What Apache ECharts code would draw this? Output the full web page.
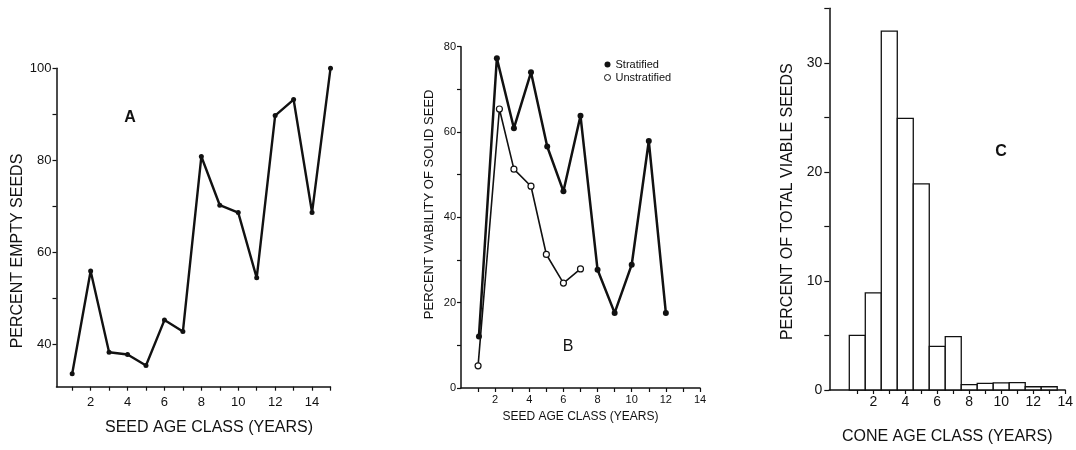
<!DOCTYPE html>
<html>
<head>
<meta charset="utf-8">
<script src="https://cdn.jsdelivr.net/npm/echarts@6/dist/echarts.min.js"></script>
<style>
  html, body { margin: 0; padding: 0; background: #fff; }
  #chart { width: 1076px; height: 450px; }
</style>
</head>
<body>
<div id="chart"></div>
<script>
// ---- Panel A: percent empty seeds by seed age class ----
const ageA = [1, 2, 3, 4, 5, 6, 7, 8, 9, 10, 11, 12, 13, 14, 15];
const emptyA = [33.5, 55.9, 38.2, 37.7, 35.3, 45.2, 42.7, 80.8, 70.2, 68.6, 54.4, 89.7, 93.2, 68.6, 100];
const ticksAx = [1, 2, 3, 4, 5, 6, 7, 8, 9, 10, 11, 12, 13, 14, 15];
const labelsAx = [2, 4, 6, 8, 10, 12, 14];
const ticksAy = [40, 50, 60, 70, 80, 90, 100];
const labelsAy = [40, 60, 80, 100];

// ---- Panel B: percent viability of solid seed ----
const ageStrat = [1.05, 2.1, 3.1, 4.1, 5.05, 6, 7, 8, 9, 10, 11, 12];
const viabStrat = [12.1, 77.3, 60.9, 74.0, 56.6, 46.1, 63.8, 27.7, 17.6, 28.9, 57.9, 17.6];
const ageUnstrat = [1, 2.25, 3.1, 4.1, 5, 6, 7];
const viabUnstrat = [5.2, 65.4, 51.3, 47.3, 31.3, 24.6, 27.9];
const ticksBx = [1, 2, 3, 4, 5, 6, 7, 8, 9, 10, 11, 12, 13, 14];
const labelsBx = [2, 4, 6, 8, 10, 12, 14];
const ticksBy = [0, 10, 20, 30, 40, 50, 60, 70, 80];
const labelsBy = [0, 20, 40, 60, 80];

// ---- Panel C: percent of total viable seeds by cone age class ----
const ageC = [1, 2, 3, 4, 5, 6, 7, 8, 9, 10, 11, 12, 13];
const pctC = [5.0, 8.9, 32.9, 24.9, 18.9, 4.0, 4.9, 0.5, 0.6, 0.65, 0.67, 0.3, 0.3];
const ticksCx = [1, 2, 3, 4, 5, 6, 7, 8, 9, 10, 11, 12, 13, 14];
const labelsCx = [2, 4, 6, 8, 10, 12, 14];
const ticksCy = [0, 5, 10, 15, 20, 25, 30, 35];
const labelsCy = [0, 10, 20, 30];

const zip = (xs, ys) => xs.map((x, i) => [x, ys[i]]);

const FONT = '"Liberation Sans", Arial, sans-serif';
const INK = '#111';

function axisBase(extra) {
  return Object.assign({
    type: 'value',
    splitLine: { show: false },
    axisLine: { show: true, onZero: false, lineStyle: { color: INK, width: 1.5 } },
    axisTick: { show: true, inside: false, length: 4, lineStyle: { color: INK, width: 1.2 } },
    axisLabel: { color: INK, fontFamily: FONT },
    nameTextStyle: { color: INK, fontFamily: FONT }
  }, extra);
}

const chart = echarts.init(document.getElementById('chart'), null, { renderer: 'canvas' });

const option = {
  backgroundColor: '#fff',
  animation: false,
  grid: [
    { left: 56.5, top: 68.3, width: 274, height: 318.4 },
    { left: 461, top: 46.7, width: 239, height: 341.3 },
    { left: 829.3, top: 8.3, width: 238, height: 382.4 }
  ],
  xAxis: [
    axisBase({
      gridIndex: 0, min: 0.15, max: 15,
      axisTick: { show: true, length: 4, customValues: ticksAx, lineStyle: { color: INK, width: 1.2 } },
      axisLabel: { customValues: labelsAx, fontSize: 13, margin: 9, color: INK, fontFamily: FONT },
      name: 'SEED AGE CLASS (YEARS)', nameLocation: 'middle', nameGap: 33,
      nameTextStyle: { fontSize: 16, color: INK, fontFamily: FONT, padding: [0, 0, 0, 31] }
    }),
    axisBase({
      gridIndex: 1, min: 0, max: 14,
      axisTick: { show: true, length: 4, customValues: ticksBx, lineStyle: { color: INK, width: 1.2 } },
      axisLabel: { customValues: labelsBx, fontSize: 11, margin: 6, color: INK, fontFamily: FONT },
      name: 'SEED AGE CLASS (YEARS)', nameLocation: 'middle', nameGap: 23,
      nameTextStyle: { fontSize: 12, color: INK, fontFamily: FONT }
    }),
    axisBase({
      gridIndex: 2, min: -0.75, max: 14,
      axisTick: { show: true, length: 4, customValues: ticksCx, lineStyle: { color: INK, width: 1.2 } },
      axisLabel: { customValues: labelsCx, fontSize: 14, margin: 5, color: INK, fontFamily: FONT },
      name: 'CONE AGE CLASS (YEARS)', nameLocation: 'middle', nameGap: 39,
      nameTextStyle: { fontSize: 16, color: INK, fontFamily: FONT }
    })
  ],
  yAxis: [
    axisBase({
      gridIndex: 0, min: 30.7, max: 100,
      axisTick: { show: true, length: 4, customValues: ticksAy, lineStyle: { color: INK, width: 1.2 } },
      axisLabel: { customValues: labelsAy, fontSize: 13, margin: 5, color: INK, fontFamily: FONT },
      name: 'PERCENT EMPTY SEEDS', nameLocation: 'middle', nameGap: 31,
      nameTextStyle: { fontSize: 16, color: INK, fontFamily: FONT, padding: [0, 47, 0, 0] }
    }),
    axisBase({
      gridIndex: 1, min: 0, max: 80,
      axisTick: { show: true, length: 4, customValues: ticksBy, lineStyle: { color: INK, width: 1.2 } },
      axisLabel: { customValues: labelsBy, fontSize: 11, margin: 5, color: INK, fontFamily: FONT },
      name: 'PERCENT VIABILITY OF SOLID SEED', nameLocation: 'middle', nameGap: 25,
      nameTextStyle: { fontSize: 13, color: INK, fontFamily: FONT, padding: [0, 0, 0, 26] }
    }),
    axisBase({
      gridIndex: 2, min: 0, max: 35,
      axisTick: { show: true, length: 5, customValues: ticksCy, lineStyle: { color: INK, width: 1.2 } },
      axisLabel: { customValues: labelsCy, fontSize: 14, margin: 7, color: INK, fontFamily: FONT },
      name: 'PERCENT OF TOTAL VIABLE SEEDS', nameLocation: 'middle', nameGap: 34,
      nameTextStyle: { fontSize: 16, color: INK, fontFamily: FONT, padding: [0, 5, 0, 0] }
    })
  ],
  legend: {
    orient: 'vertical',
    left: 599,
    top: 54,
    itemWidth: 6,
    itemHeight: 6,
    itemGap: 2,
    itemTextGap: 4,
    textStyle: { fontSize: 11, color: INK, fontFamily: FONT },
    data: [
      { name: 'Stratified', icon: 'circle', itemStyle: { color: INK } },
      { name: 'Unstratified', icon: 'circle', itemStyle: { color: '#fff', borderColor: INK, borderWidth: 1 } }
    ]
  },
  series: [
    {
      name: 'Percent empty seeds',
      type: 'line',
      xAxisIndex: 0, yAxisIndex: 0,
      data: zip(ageA, emptyA),
      symbol: 'circle', symbolSize: 5,
      lineStyle: { color: INK, width: 2.4 },
      itemStyle: { color: INK },
      z: 3
    },
    {
      name: 'Stratified',
      type: 'line',
      xAxisIndex: 1, yAxisIndex: 1,
      data: zip(ageStrat, viabStrat),
      symbol: 'circle', symbolSize: 6,
      lineStyle: { color: INK, width: 2.5 },
      itemStyle: { color: INK },
      z: 3
    },
    {
      name: 'Unstratified',
      type: 'line',
      xAxisIndex: 1, yAxisIndex: 1,
      data: zip(ageUnstrat, viabUnstrat),
      symbol: 'circle', symbolSize: 6,
      lineStyle: { color: INK, width: 1.6 },
      itemStyle: { color: '#fff', borderColor: INK, borderWidth: 1.2 },
      z: 4
    },
    {
      name: 'Percent of total viable seeds',
      type: 'custom',
      xAxisIndex: 2, yAxisIndex: 2,
      data: zip(ageC, pctC),
      renderItem: function (params, api) {
        const x = api.value(0), y = api.value(1);
        const p0 = api.coord([x - 0.5, y]);
        const p1 = api.coord([x + 0.5, 0]);
        return {
          type: 'rect',
          shape: { x: p0[0], y: p0[1], width: p1[0] - p0[0], height: p1[1] - p0[1] },
          style: { fill: '#fff', stroke: INK, lineWidth: 1.3 }
        };
      },
      z: 3
    }
  ],
  graphic: [
    { type: 'text', x: 130, y: 118, style: { text: 'A', font: 'bold 16px ' + FONT, fill: INK, textAlign: 'center', textVerticalAlign: 'middle' } },
    { type: 'text', x: 568, y: 347, style: { text: 'B', font: '16px ' + FONT, fill: INK, textAlign: 'center', textVerticalAlign: 'middle' } },
    { type: 'text', x: 1001, y: 152, style: { text: 'C', font: 'bold 16px ' + FONT, fill: INK, textAlign: 'center', textVerticalAlign: 'middle' } }
  ]
};

chart.setOption(option);
</script>
</body>
</html>
